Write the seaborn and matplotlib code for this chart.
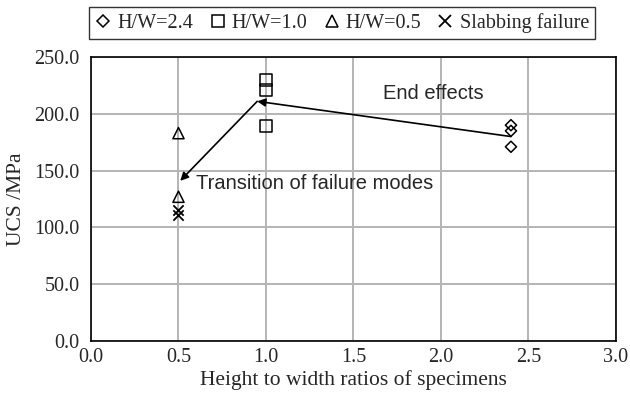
import matplotlib
matplotlib.use("Agg")
import matplotlib.pyplot as plt
from matplotlib.lines import Line2D
import seaborn as sns

# values
hw24_x = [2.4, 2.4, 2.4]
hw24_y = [190, 185, 171]
hw10_x = [1.0, 1.0, 1.0]
hw10_y = [230, 221, 189]
hw05_x = [0.5, 0.5]
hw05_y = [183, 127]
slab_x = [0.5, 0.5]
slab_y = [115, 111]

end_start = (2.4, 180)
end_tip = (0.95, 211)
trans_tip = (0.51, 141)

sns.set_style("white")
plt.rcParams["font.family"] = ["Liberation Serif", "DejaVu Serif"]

fig = plt.figure(figsize=(6.3, 3.93), dpi=100)
ax = fig.add_axes([0.1444, 0.1323, 0.8333, 0.7226])

kw = dict(color="none", edgecolor="black", linewidth=1.1, ax=ax, zorder=3, legend=False)
sns.scatterplot(x=hw24_x, y=hw24_y, marker="D", s=32, **kw)
sns.scatterplot(x=hw10_x, y=hw10_y, marker="s", s=75, **kw)
sns.scatterplot(x=hw05_x, y=hw05_y, marker="^", s=65, **kw)
sns.scatterplot(x=slab_x, y=slab_y, marker="x", s=55, color="black", linewidth=1.3,
                ax=ax, zorder=3, legend=False)

ax.set_xlim(0, 3)
ax.set_ylim(0, 250)
ax.set_xticks([0, 0.5, 1.0, 1.5, 2.0, 2.5, 3.0])
ax.set_yticks([0, 50, 100, 150, 200, 250])
ax.set_xticklabels([f"{v:.1f}" for v in ax.get_xticks()])
ax.set_yticklabels([f"{v:.1f}" for v in ax.get_yticks()])
ax.grid(True, color="#b4b4b4", linewidth=1.4)
ax.set_axisbelow(True)
for sp in ax.spines.values():
    sp.set_color("black")
    sp.set_linewidth(1.2)
ax.tick_params(axis="both", labelsize=14.5, length=3, direction="in", color="black")
ax.tick_params(axis="y", pad=8)
ax.tick_params(axis="x", pad=5)
ax.set_xlabel("Height to width ratios of specimens", fontsize=15.5, labelpad=2)
ax.set_ylabel("UCS /MPa", fontsize=15.5, labelpad=6)

arrow = dict(arrowstyle="-|>", color="black", lw=1.2, mutation_scale=12, shrinkA=0, shrinkB=0)
ax.annotate("", xy=end_tip, xytext=end_start, arrowprops=arrow)
ax.annotate("", xy=trans_tip, xytext=end_tip, arrowprops=arrow)
ax.text(1.67, 218, "End effects", fontsize=14.5, family=["Liberation Sans"], va="center")
ax.text(0.6, 139, "Transition of failure modes", fontsize=14.5, family=["Liberation Sans"],
        va="center")

handles = [
    Line2D([], [], ls="none", marker="D", ms=6, mfc="none", mec="black", mew=1.1),
    Line2D([], [], ls="none", marker="s", ms=9, mfc="none", mec="black", mew=1.1),
    Line2D([], [], ls="none", marker="^", ms=8, mfc="none", mec="black", mew=1.1),
    Line2D([], [], ls="none", marker="x", ms=8, color="black", mew=1.3),
]
labels = ["H/W=2.4", "H/W=1.0", "H/W=0.5", "Slabbing failure"]
leg = fig.legend(handles, labels, loc="upper right", bbox_to_anchor=(595 / 630, 1 - 7 / 393),
                 ncol=4, fontsize=14.5, frameon=True, fancybox=False, handlelength=0.8,
                 handletextpad=0.3, columnspacing=0.8, borderpad=0.3, borderaxespad=0)
leg.get_frame().set_edgecolor("black")
leg.get_frame().set_linewidth(1.0)

fig.savefig("out.png", dpi=100)
